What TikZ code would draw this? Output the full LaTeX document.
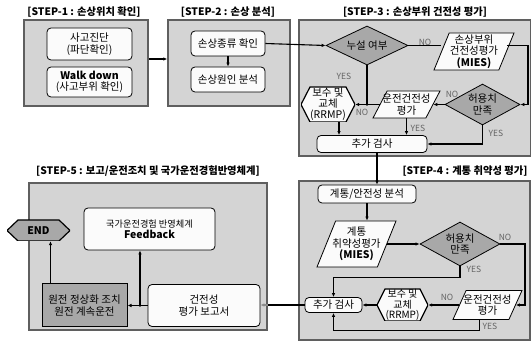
\documentclass[tikz,border=0pt]{standalone}
\usepackage{fontspec}
\setmainfont{Noto Sans CJK KR}
\usetikzlibrary{shapes.geometric,arrows.meta,calc}
\definecolor{stepfill}{RGB}{212,212,212}
\definecolor{framecol}{RGB}{95,95,95}
\definecolor{nodefill}{RGB}{251,251,251}
\definecolor{darkfill}{RGB}{168,168,168}
\definecolor{labcol}{RGB}{100,100,100}
\definecolor{feedgray}{RGB}{140,140,140}
\begin{document}
\begin{tikzpicture}[x=1pt,y=-1pt,
  font=\fontsize{10.5}{11.5}\selectfont,
  stepbox/.style={draw=framecol,line width=1.5pt,fill=stepfill,inner sep=0pt},
  ttl/.style={font=\fontsize{10.3}{12}\selectfont\bfseries,inner sep=0pt},
  proc/.style={draw=black,line width=0.8pt,fill=nodefill,rounded corners=4pt,inner sep=0pt,align=center},
  txt/.style={align=center,inner sep=0pt,font=\fontsize{10.5}{11.5}\selectfont},
  dec/.style={diamond,draw=black,line width=0.8pt,fill=darkfill,inner sep=1pt},
  para/.style 2 args={trapezium,trapezium left angle=#1,trapezium right angle=#2,trapezium stretches=true,draw=black,line width=0.8pt,fill=nodefill,inner sep=2pt},
  hexa/.style 2 args={inner sep=0pt,align=center,path picture={\filldraw[draw=black,line width=1.2pt,fill=#2] (path picture bounding box.west) -- ([xshift=#1]path picture bounding box.north west) -- ([xshift=-#1]path picture bounding box.north east) -- (path picture bounding box.east) -- ([xshift=-#1]path picture bounding box.south east) -- ([xshift=#1]path picture bounding box.south west) -- cycle;}},
  conn/.style={line width=1.1pt,black},
  arr/.style={conn,-{Latex[length=4pt,width=3.5pt]}},
  yn/.style={font=\fontsize{8.5}{10}\selectfont,text=labcol,inner sep=0pt},
  jdot/.style={circle,fill=black,inner sep=0pt,minimum size=2.8pt}
]
\useasboundingbox (0,0) rectangle (531,342);

% step frames
\node[stepbox,minimum width=124pt,minimum height=86pt] (s1) at (86,63) {};
\node[stepbox,minimum width=122pt,minimum height=86pt] (s2) at (229,63) {};
\node[stepbox,minimum width=232pt,minimum height=136pt] (s3) at (415,88) {};
\node[stepbox,minimum width=231pt,minimum height=159pt] (s4) at (414.5,260.5) {};
\node[stepbox,minimum width=238pt,minimum height=147pt] (s5) at (148,256.5) {};

% titles
\node[ttl] (t1) at (84,12) {[STEP-1 : 손상위치 확인]};
\node[ttl] (t2) at (228,12) {[STEP-2 : 손상 분석]};
\node[ttl] (t3) at (415,12) {[STEP-3 : 손상부위 건전성 평가]};
\node[ttl] (t4) at (465,171) {[STEP-4 : 계통 취약성 평가]};
\node[ttl] (t5) at (148,171) {[STEP-5 : 보고/운전조치 및 국가운전경험반영체계]};

% step 1
\node[proc,minimum width=85pt,minimum height=32pt] (a1) at (89.5,44) {사고진단\\(파단확인)};
\node[proc,minimum width=85pt,minimum height=30pt] (a2) at (89.5,82) {\textbf{Walk down}\\(사고부위 확인)};

% step 2
\node[proc,minimum width=74pt,minimum height=25pt] (b1) at (228,43.5) {손상종류 확인};
\node[proc,minimum width=74pt,minimum height=25pt] (b2) at (228,79.5) {손상원인 분석};

% step 3
\node[dec,minimum width=82pt,minimum height=39pt,label={[txt]center:누설 여부}] (c1) at (367,45.5) {};
\node[para={73}{107},minimum width=80pt,minimum height=37pt,label={[txt]center:손상부위\\건전성평가\\\textbf{(MIES)}}] (c2) at (474,51.5) {};
\node[dec,minimum width=75pt,minimum height=41pt,label={[txt]center:허용치\\만족}] (c3) at (482.5,104.5) {};
\node[para={70}{110},minimum width=67pt,minimum height=27pt,label={[txt]center:운전건전성\\평가}] (c4) at (406.5,104.5) {};
\node[hexa={9pt}{nodefill},minimum width=54pt,minimum height=35pt,font=\fontsize{10.5}{11}\selectfont] (c5) at (328,104.5) {보수 및\\교체\\(RRMP)};
\node[proc,minimum width=110pt,minimum height=17pt] (c6) at (372,144) {추가 검사};

% step 4
\node[proc,minimum width=98pt,minimum height=18pt] (d1) at (367,194) {계통/안전성 분석};
\node[para={66}{114},minimum width=79pt,minimum height=46pt,label={[txt]center:계통\\취약성평가\\\textbf{(MIES)}}] (d2) at (356.5,244) {};
\node[dec,minimum width=80pt,minimum height=44pt,label={[txt]center:허용치\\만족}] (d3) at (460,244) {};
\node[para={73}{107},minimum width=69pt,minimum height=29pt,label={[txt]center:운전건전성\\평가}] (d4) at (487.5,305) {};
\node[hexa={8pt}{nodefill},minimum width=51pt,minimum height=32pt,font=\fontsize{10}{10.5}\selectfont] (d5) at (402.5,305) {보수 및\\교체\\(RRMP)};
\node[proc,minimum width=57pt,minimum height=15pt] (d6) at (333.5,305) {추가 검사};

% step 5
\node[proc,minimum width=131pt,minimum height=42pt] (e1) at (149.5,229) {{\fontsize{9.2}{11.5}\selectfont 국가운전경험 반영체계}\\\textbf{Feedback}};
\node[draw=black,line width=1pt,fill=darkfill,minimum width=85pt,minimum height=43pt,align=center,inner sep=0pt] (e2) at (84.5,305.5) {원전 정상화 조치\\원전 계속운전};
\node[proc,minimum width=112pt,minimum height=42pt] (e3) at (204,305.5) {건전성\\평가 보고서};
\node[hexa={11pt}{darkfill},minimum width=63pt,minimum height=21pt] (e4) at (38.5,230.5) {\textbf{END}};

% connectors step 1-2
\draw[arr] ([yshift=4pt]s1.east) -- ([yshift=4pt]s1.east -| s2.west);
\draw[arr] (b1.south) -- (b2.north);
\draw[arr] (b1.east) -- (c1.west);

% connectors step 3
\draw[conn] (c1.east) -- (c1.east -| c2.west);
\node[yn] (n1) at (425,42) {NO};
\coordinate (rc3) at (528,104.5);
\draw[arr] ([yshift=6pt]c2.east) -| (rc3) -- (c3.east);
\draw[arr] (c3.west) -- (c3.west -| c4.east);
\node[yn] (n2) at (452,94) {NO};
\draw[arr] (c4.west) -- (c5.east);
\draw[conn] (c1.south) -- (c1.south |- c5.east);
\node[jdot] (j3) at (c1.south |- c5.east) {};
\node[yn] (n3) at (344,76) {YES};
\node[yn] (n4) at (362,112) {NO};
\draw[arr] ([xshift=11pt]c5.south) -- ([xshift=11pt]c5.south |- c6.north);
\draw[arr] (c4.south) -- (c4.south |- c6.north);
\node[yn] (n5) at (418,128) {YES};
\draw[arr] (c3.south) |- (c6.east);
\node[yn] (n6) at (496,133) {YES};
\draw[arr] ([xshift=5pt]c6.south) -- ([xshift=5pt]c6.south |- d1.north);

% connectors step 4
\draw[arr] (d1.south) -- (d1.south |- d2.north);
\draw[arr] (d2.east) -- (d3.west);
\node[yn] (m1) at (505,237) {NO};
\coordinate (rc4) at (525,305);
\draw[arr] (d3.east) -| (rc4) -- (d4.east);
\draw[arr] (d4.west) -- (d5.east);
\node[yn] (m2) at (447,297) {NO};
\draw[arr] (d5.west) -- (d6.east);
\draw[arr] (d3.south) -- ++(0,11) -| (d6.north);
\node[yn] (m3) at (474,269) {YES};
\draw[arr] ([xshift=-8pt]d4.south) -- ++(0,11) -| (d6.south);
\node[yn] (m4) at (490,326) {YES};

% connectors step 5
\draw[conn] (d6.west) -- (d6.west -| s5.east);
\draw[line width=1.1pt,draw=feedgray,-{Latex[length=4pt,width=3.5pt]}] (d6.west -| s5.east) -- (e3.east |- d6.west);
\draw[arr] (e3.west) -- (e2.east);
\path (e3.west) -- (e2.east) coordinate[pos=0.38] (j5);
\draw[arr] (j5) -- (j5 |- e1.south);
\node[jdot] (j5d) at (j5) {};
\draw[arr] ([xshift=9pt]e2.north west) -- ([xshift=9pt]e2.north west |- e4.south);
\end{tikzpicture}
\end{document}
